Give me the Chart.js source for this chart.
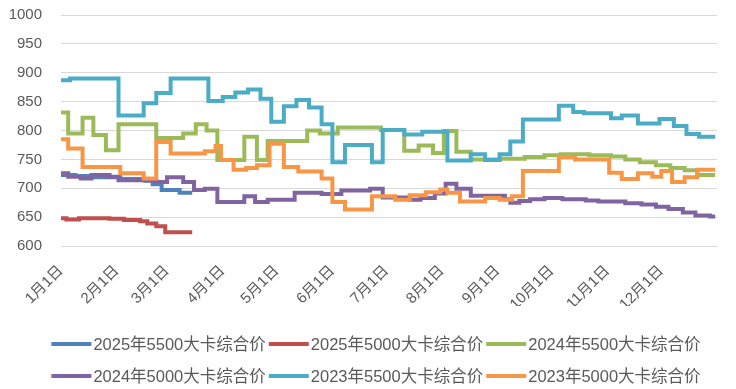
<!DOCTYPE html>
<html>
<head>
<meta charset="utf-8">
<script src="https://cdn.jsdelivr.net/npm/chart.js@4.4.0/dist/chart.umd.min.js"></script>
<style>
  html, body { margin: 0; padding: 0; background: #fff; }
  #wrap { width: 736px; height: 389px; position: relative; }
</style>
</head>
<body>
<div id="wrap"><canvas id="chart"></canvas></div>
<script>
// x axis: day of year, ticks at month starts
const monthDays = [0, 31, 59, 90, 120, 151, 181, 212, 243, 273, 304, 334];
const monthLabels = ['1月1日', '2月1日', '3月1日', '4月1日', '5月1日', '6月1日',
                     '7月1日', '8月1日', '9月1日', '10月1日', '11月1日', '12月1日'];

const seriesNames = ['2025年5500大卡综合价', '2025年5000大卡综合价', '2024年5500大卡综合价',
                     '2024年5000大卡综合价', '2023年5500大卡综合价', '2023年5000大卡综合价'];
const seriesColors = ['#4F81BD', '#C0504D', '#9BBB59', '#8064A2', '#4BACC6', '#F79646'];

// [day, price] at each change of value
const s2025_5500 = [[0,723],[8,721],[19,719],[33,716],[47,713],[51,707],[56,697],[66,692],[73,692]];
const s2025_5000 = [[0,648],[3,646],[10,648],[27,647],[35,645],[44,643],[48,639],[53,634],[58,624],[73,624]];
const s2024_5500 = [[0,831],[4,795],[12,822],[18,792],[25,766],[32,811],[53,787],[68,795],[75,811],[81,800],
                    [87,749],[102,789],[109,749],[115,782],[137,800],[144,795],[154,805],[178,801],[191,765],
                    [199,774],[207,761],[213,799],[220,763],[228,750],[244,751],[258,754],[269,757],[278,759],
                    [294,757],[306,755],[314,750],[322,745],[331,740],[339,735],[347,731],[354,723],[364,723]];
const s2024_5000 = [[0,726],[4,720],[11,717],[17,723],[27,720],[32,714],[53,711],[59,719],[68,711],[74,697],
                    [80,699],[87,676],[102,686],[108,676],[115,680],[130,692],[145,690],[156,696],[172,699],
                    [179,684],[194,680],[200,683],[208,691],[214,708],[220,699],[228,687],[247,681],[250,675],
                    [255,678],[261,681],[269,683],[279,681],[292,679],[299,677],[314,674],[323,672],[331,668],
                    [338,664],[346,658],[353,653],[361,651],[364,651]];
const s2023_5500 = [[0,887],[5,890],[32,826],[46,847],[53,865],[61,890],[82,851],[90,858],[97,866],[104,871],
                    [111,855],[117,815],[124,842],[131,853],[138,840],[145,811],[151,745],[158,775],[173,745],
                    [179,801],[191,793],[201,798],[215,748],[228,759],[236,749],[244,759],[250,781],[257,819],
                    [277,843],[285,832],[291,830],[306,821],[312,826],[321,812],[333,820],[341,808],[348,794],
                    [355,789],[364,789]];
const s2023_5000 = [[0,785],[4,769],[12,737],[33,726],[46,717],[53,780],[61,760],[80,764],[86,773],[89,749],
                    [96,732],[103,735],[109,740],[116,777],[124,737],[132,729],[145,717],[151,676],[158,663],
                    [173,686],[186,680],[194,688],[203,693],[211,698],[215,692],[222,677],[236,683],[244,680],
                    [251,686],[257,730],[277,754],[286,750],[305,727],[312,716],[321,726],[329,720],[334,730],
                    [340,711],[347,719],[354,732],[364,732]];

const allSeries = [s2025_5500, s2025_5000, s2024_5500, s2024_5000, s2023_5500, s2023_5000];

// legend drawn in two rows of three, like the original
const legendRows = {
    id: 'legendRows',
    afterDraw(chart) {
        const ctx = chart.ctx;
        const sets = chart.data.datasets;
        ctx.save();
        ctx.font = '16.5px "Liberation Sans", "Noto Sans CJK SC"';
        ctx.textBaseline = 'middle';
        for (let r = 0; r < 2; r++) {
            const items = sets.slice(r * 3, r * 3 + 3);
            const widths = items.map(d => 42 + ctx.measureText(d.label).width);
            const total = widths.reduce((a, b) => a + b, 0) + 3 * (items.length - 1);
            let x = 376 - total / 2;
            const y = 344 + r * 32;
            items.forEach((d, i) => {
                ctx.strokeStyle = d.borderColor;
                ctx.lineWidth = 4;
                ctx.beginPath();
                ctx.moveTo(x, y);
                ctx.lineTo(x + 40, y);
                ctx.stroke();
                ctx.fillStyle = '#595959';
                ctx.fillText(d.label, x + 42, y + 1);
                x += widths[i] + 3;
            });
        }
        ctx.restore();
    }
};

const ctx = document.getElementById('chart').getContext('2d');
new Chart(ctx, {
    type: 'line',
    data: {
        datasets: allSeries.map((s, i) => ({
            label: seriesNames[i],
            data: s.map(p => ({x: p[0], y: p[1]})),
            borderColor: seriesColors[i],
            backgroundColor: seriesColors[i],
            borderWidth: 4,
            pointRadius: 0,
            stepped: true,
            order: 6 - i
        }))
    },
    options: {
        responsive: true,
        maintainAspectRatio: false,
        animation: false,
        layout: {
            padding: {left: 6, top: 15, right: 19, bottom: 83}
        },
        scales: {
            x: {
                type: 'linear',
                min: 0,
                max: 365,
                grid: { display: false },
                border: { display: false },
                afterBuildTicks: (scale) => {
                    scale.ticks = monthDays.map(v => ({value: v}));
                },
                afterFit: (scale) => {
                    scale.paddingLeft = 0;
                    scale.paddingRight = 0;
                    scale.height = 60;
                },
                ticks: {
                    autoSkip: false,
                    maxRotation: 45,
                    minRotation: 45,
                    padding: 8,
                    color: '#595959',
                    font: { family: '"Liberation Sans", "Noto Sans CJK SC"', size: 15 },
                    callback: (v, i) => monthLabels[i]
                }
            },
            y: {
                min: 600,
                max: 1000,
                border: { display: false },
                grid: { color: '#D9D9D9', drawTicks: false },
                afterFit: (scale) => {
                    scale.paddingTop = 0;
                    scale.paddingBottom = 0;
                    scale.width = 55;
                },
                ticks: {
                    stepSize: 50,
                    padding: 19,
                    color: '#595959',
                    font: { family: '"Liberation Sans", "Noto Sans CJK SC"', size: 15 },
                    callback: (v) => String(v)
                }
            }
        },
        plugins: {
            legend: { display: false },
            tooltip: { enabled: false }
        }
    },
    plugins: [legendRows]
});
</script>
</body>
</html>
